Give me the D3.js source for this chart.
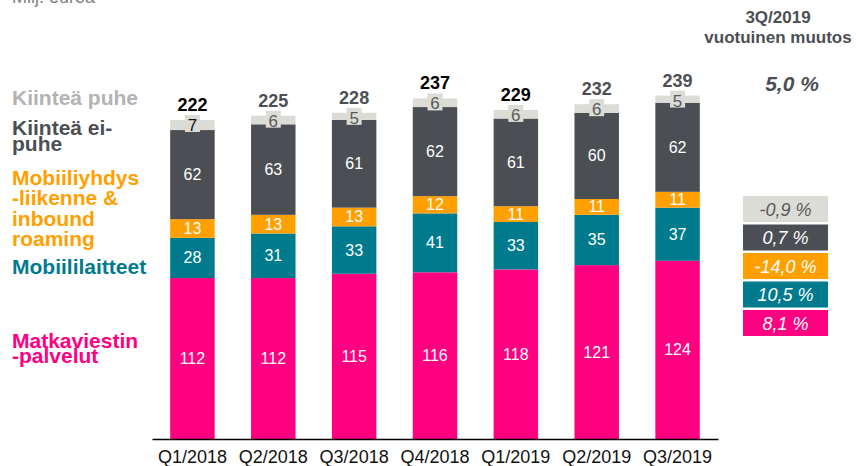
<!DOCTYPE html>
<html>
<head>
<meta charset="utf-8">
<script src="https://cdn.jsdelivr.net/npm/d3@7"></script>
<style>
  body { margin: 0; background: #fff; }
  svg { display: block; font-family: "Liberation Sans", Arial, sans-serif; }
</style>
</head>
<body>
<svg id="chart" width="861" height="466"></svg>
<script>
// Data
const quarters = ['Q1/2018', 'Q2/2018', 'Q3/2018', 'Q4/2018', 'Q1/2019', 'Q2/2019', 'Q3/2019'];
const matkaviestinpalvelut = [112, 112, 115, 116, 118, 121, 124];
const mobiililaitteet = [28, 31, 33, 41, 33, 35, 37];
const mobiiliyhdysliikenne = [13, 13, 13, 12, 11, 11, 11];
const kiinteaEiPuhe = [62, 63, 61, 62, 61, 60, 62];
const kiinteaPuhe = [7, 6, 5, 6, 6, 6, 5];
const totals = [222, 225, 228, 237, 229, 232, 239];
const changes = ['-0,9 %', '0,7 %', '-14,0 %', '10,5 %', '8,1 %']; // ylhäältä alas
const totalChange = '5,0 %';

// Tyylit
const COLORS = { grey: '#dcdcd7', dark: '#4b4f54', orange: '#ffa000', teal: '#007b8d', pink: '#ff0080' };
const blackTotals = new Set(['Q1/2018', 'Q4/2018', 'Q1/2019']);
const FONT = '"Liberation Sans", Arial, sans-serif';

const series = [
  { key: 'pink', values: matkaviestinpalvelut, color: COLORS.pink },
  { key: 'teal', values: mobiililaitteet, color: COLORS.teal },
  { key: 'orange', values: mobiiliyhdysliikenne, color: COLORS.orange },
  { key: 'dark', values: kiinteaEiPuhe, color: COLORS.dark },
  { key: 'grey', values: kiinteaPuhe, color: COLORS.grey },
];

const svg = d3.select('#chart');

const x = d3.scaleBand().domain(quarters).range([152, 718]).paddingInner(0.45).paddingOuter(0.225);
const y = d3.scaleLinear().domain([0, 250]).range([439, 439 - 250 * 1.437]);

// pinotut rivit
const rows = quarters.map((q, i) => {
  const r = { q };
  series.forEach(s => { r[s.key] = s.values[i]; });
  return r;
});
const stacked = d3.stack().keys(series.map(s => s.key))(rows);

svg.append('g').selectAll('g').data(stacked).join('g')
  .attr('fill', (d, i) => series[i].color)
  .selectAll('rect').data(d => d).join('rect')
  .attr('x', d => x(d.data.q))
  .attr('width', x.bandwidth())
  .attr('y', d => y(d[1]))
  .attr('height', d => y(d[0]) - y(d[1]));

// segmenttien arvot (valkoinen), paitsi ylin harmaa kerros
stacked.slice(0, 4).forEach(layer => {
  svg.append('g').selectAll('text').data(layer).join('text')
    .attr('x', d => x(d.data.q) + x.bandwidth() / 2)
    .attr('y', d => (y(d[0]) + y(d[1])) / 2 + 5.5)
    .attr('text-anchor', 'middle')
    .attr('font-size', 16)
    .attr('fill', '#fff')
    .text(d => d[1] - d[0]);
});

// harmaan kerroksen arvot laatikossa
const topLayer = stacked[4];
const greyLabels = svg.append('g').selectAll('g').data(topLayer).join('g')
  .attr('transform', d => `translate(${x(d.data.q) + x.bandwidth() / 2},${y(d[1])})`);
greyLabels.append('rect')
  .attr('x', -7.5).attr('y', -5).attr('width', 15).attr('height', 17)
  .attr('fill', COLORS.grey);
greyLabels.append('text')
  .attr('y', 11).attr('text-anchor', 'middle').attr('font-size', 17)
  .attr('fill', d => d.data.q === 'Q1/2018' ? '#111' : '#5a5a5a')
  .text(d => d[1] - d[0]);

// summat
svg.append('g').selectAll('text').data(topLayer).join('text')
  .attr('x', d => x(d.data.q) + x.bandwidth() / 2)
  .attr('y', d => y(d[1]) - 9)
  .attr('text-anchor', 'middle')
  .attr('font-size', 18).attr('font-weight', 'bold')
  .attr('fill', d => blackTotals.has(d.data.q) ? '#000' : '#4b4f54')
  .text((d, i) => totals[i]);

// x-akseli
const axis = svg.append('g').attr('transform', 'translate(0,439)')
  .call(d3.axisBottom(x).tickSize(0).tickPadding(11).tickSizeOuter(0));
axis.select('.domain').attr('stroke', '#000').attr('stroke-width', 1.5);
axis.selectAll('text').attr('font-size', 18).attr('fill', '#111').attr('font-family', FONT);

// selite vasemmalla
const legend = [
  { lines: ['Kiinteä puhe'], color: '#b3b3b3', y0: 105 },
  { lines: ['Kiinteä ei-', 'puhe'], color: COLORS.dark, y0: 135, lh: 16 },
  { lines: ['Mobiiliyhdys', '-liikenne &', 'inbound', 'roaming'], color: COLORS.orange, y0: 185, lh: 20.3 },
  { lines: ['Mobiililaitteet'], color: COLORS.teal, y0: 274 },
  { lines: ['Matkaviestin', '-palvelut'], color: COLORS.pink, y0: 348, lh: 15 },
];
legend.forEach(l => {
  svg.append('text')
    .attr('x', 12).attr('y', l.y0)
    .attr('font-size', 21).attr('font-weight', 'bold').attr('fill', l.color)
    .selectAll('tspan').data(l.lines).join('tspan')
    .attr('x', 12).attr('dy', (d, i) => i === 0 ? 0 : l.lh)
    .text(d => d);
});

// yksikkö (leikkautuu yläreunasta)
svg.append('text').attr('x', 12).attr('y', 3)
  .attr('font-size', 18).attr('fill', '#7f7f7f').text('Milj. euroa');

// oikean reunan otsikko
svg.append('text').attr('x', 778).attr('y', 23).attr('text-anchor', 'middle')
  .attr('font-size', 17).attr('font-weight', 'bold').attr('fill', '#4b4f54')
  .selectAll('tspan').data(['3Q/2019', 'vuotuinen muutos']).join('tspan')
  .attr('x', 778).attr('dy', (d, i) => i === 0 ? 0 : 20).text(d => d);

svg.append('text').attr('x', 792).attr('y', 91).attr('text-anchor', 'middle')
  .attr('font-size', 21).attr('font-weight', 'bold').attr('font-style', 'italic')
  .attr('fill', '#4b4f54').text(totalChange);

// muutoslaatikot
const boxColors = [COLORS.grey, COLORS.dark, COLORS.orange, COLORS.teal, COLORS.pink];
const boxY = d3.scalePoint().domain(d3.range(changes.length)).range([196, 310]);
const boxes = svg.append('g').selectAll('g').data(changes).join('g')
  .attr('transform', (d, i) => `translate(743,${boxY(i)})`);
boxes.append('rect').attr('width', 85).attr('height', 26)
  .attr('fill', (d, i) => boxColors[i]);
boxes.append('text').attr('x', 42.5).attr('y', 19.5).attr('text-anchor', 'middle')
  .attr('font-size', 18).attr('font-style', 'italic')
  .attr('fill', (d, i) => i === 0 ? '#595959' : '#fff')
  .text(d => d);
</script>
</body>
</html>
